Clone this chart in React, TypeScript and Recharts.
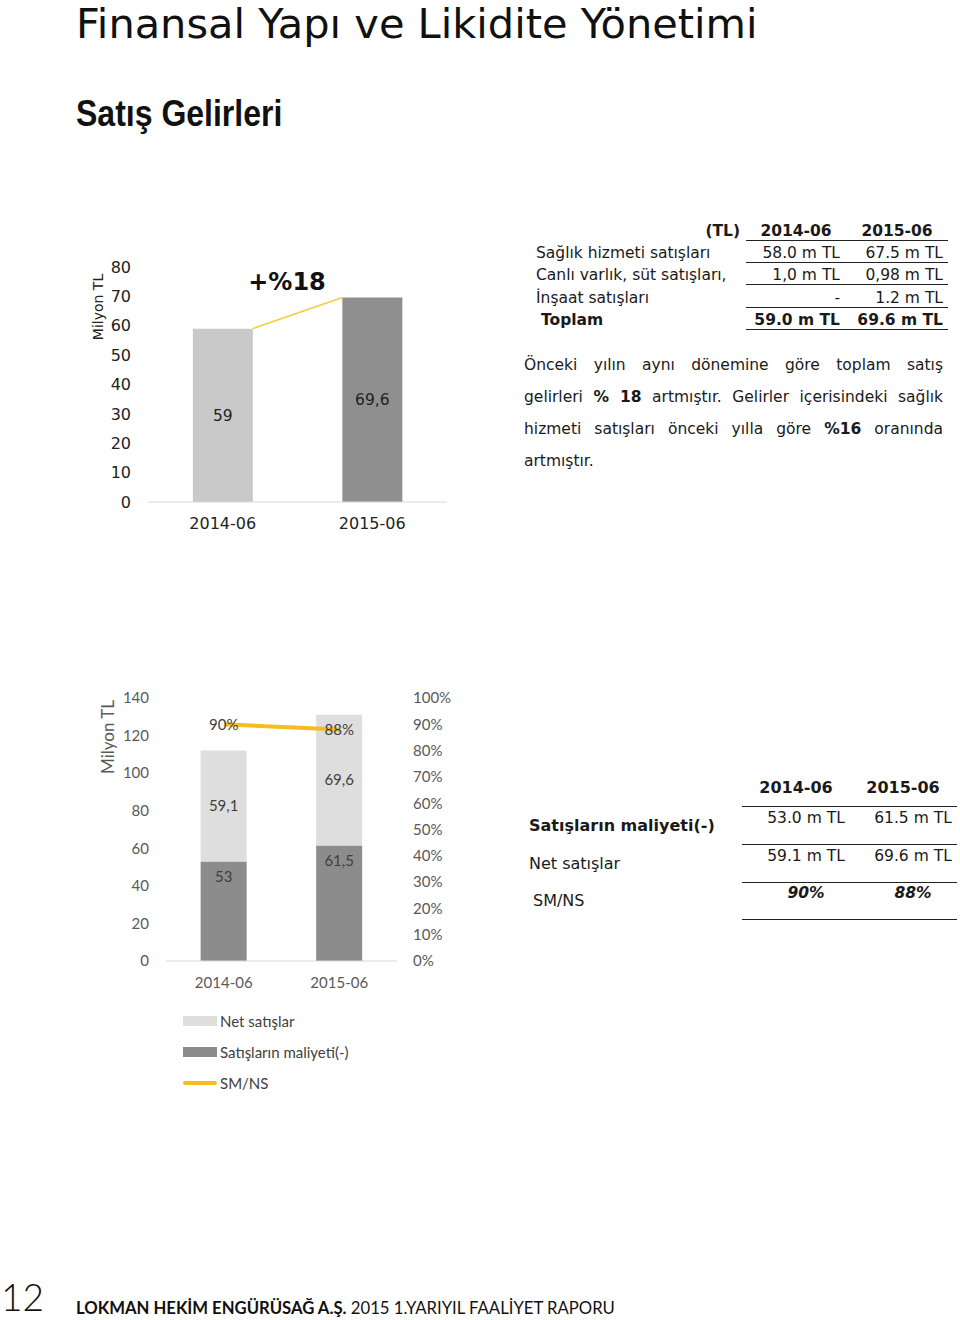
import React from 'react';
import {
  ComposedChart,
  Bar,
  Line,
  XAxis,
  YAxis,
  Cell,
  LabelList,
  Legend,
} from 'recharts';

// ---------- DATA ----------
const revCategories = ['2014-06', '2015-06'];
const revValues = [59, 69.6];
const revTicks = [0, 10, 20, 30, 40, 50, 60, 70, 80];
const revColors = ['#c9c9c9', '#8f8f8f'];
const growthLabel = '+%18';

const cmCategories = ['2014-06', '2015-06'];
const costValues = [53, 61.5];
const netValues = [59.1, 69.6];
const ratioValues = [0.9, 0.88];
const cmLeftTicks = [0, 20, 40, 60, 80, 100, 120, 140];
const cmRightTicks = [0, 0.1, 0.2, 0.3, 0.4, 0.5, 0.6, 0.7, 0.8, 0.9, 1];

const table1Header = ['(TL)', '2014-06', '2015-06'];
const table1Labels = ['Sağlık hizmeti satışları', 'Canlı varlık, süt satışları,', 'İnşaat satışları', 'Toplam'];
const table1Col1 = ['58.0 m TL', '1,0 m TL', '-', '59.0 m TL'];
const table1Col2 = ['67.5 m TL', '0,98 m TL', '1.2 m TL', '69.6 m TL'];

const table2Header = ['2014-06', '2015-06'];
const table2Labels = ['Satışların maliyeti(-)', 'Net satışlar', 'SM/NS'];
const table2Col1 = ['53.0 m TL', '59.1 m TL', '90%'];
const table2Col2 = ['61.5 m TL', '69.6 m TL', '88%'];

type Seg = { t: string; b?: boolean };
const paragraph: Seg[][] = [
  [{ t: 'Önceki yılın aynı dönemine göre toplam satış' }],
  [{ t: 'gelirleri ' }, { t: '% 18', b: true }, { t: ' artmıştır. Gelirler içerisindeki sağlık' }],
  [{ t: 'hizmeti satışları önceki yılla göre  ' }, { t: '%16', b: true }, { t: ' oranında' }],
  [{ t: 'artmıştır.' }],
];

const legendItems = [
  { label: 'Net satışlar', color: '#dedede', kind: 'rect' },
  { label: 'Satışların maliyeti(-)', color: '#8c8c8c', kind: 'rect' },
  { label: 'SM/NS', color: '#f5bd1f', kind: 'line' },
];

// ---------- STYLE ----------
const CG = '"DejaVu Sans", "Noto Sans", sans-serif';
const CAL = 'Lato, "Open Sans", sans-serif';
const BAR_FRACTION = 0.4; // bar width / band width

const fmtComma = (v: any) => String(v).replace('.', ',');
const fmtPct = (v: any) => `${Math.round(Number(v) * 100)}%`;

const revData = revCategories.map((c, i) => ({ cat: c, value: revValues[i] }));
const connector = [
  { pos: 0.5 + BAR_FRACTION / 2, v: revValues[0] },
  { pos: 1.5 - BAR_FRACTION / 2, v: revValues[1] },
];
const cmData = cmCategories.map((c, i) => ({
  cat: c,
  cost: costValues[i],
  net: netValues[i],
  ratio: ratioValues[i],
}));

const T = (props: {
  x: number;
  cy: number;
  children: React.ReactNode;
  align?: 'left' | 'right' | 'center';
  font?: string;
  size?: number;
  bold?: boolean;
  italic?: boolean;
  color?: string;
}) => {
  const { x, cy, align = 'left', font = CG, size = 15.5, bold, italic, color = '#1a1a1a' } = props;
  const style: React.CSSProperties = {
    position: 'absolute',
    top: cy - 12,
    height: 24,
    lineHeight: '24px',
    fontFamily: font,
    fontSize: size,
    fontWeight: bold ? 700 : 400,
    fontStyle: italic ? 'italic' : 'normal',
    color,
    whiteSpace: 'nowrap',
  };
  if (align === 'left') style.left = x;
  else if (align === 'right') {
    style.left = x - 300;
    style.width = 300;
    style.textAlign = 'right';
  } else {
    style.left = x - 150;
    style.width = 300;
    style.textAlign = 'center';
  }
  return <div style={style}>{props.children}</div>;
};

const HLine = ({ x1, x2, y }: { x1: number; x2: number; y: number }) => (
  <div style={{ position: 'absolute', left: x1, top: y, width: x2 - x1, height: 1, background: '#222' }} />
);

const LegendContent = () => (
  <div style={{ height: 104, paddingTop: 14, boxSizing: 'border-box', marginLeft: 183 }}>
    {legendItems.map((it) => (
      <div key={it.label} style={{ height: 31, display: 'flex', alignItems: 'center' }}>
        <div
          style={{
            width: 34,
            height: it.kind === 'rect' ? 10 : 4,
            background: it.color,
            marginRight: 3,
            borderRadius: it.kind === 'line' ? 2 : 0,
          }}
        />
        <span style={{ fontFamily: CAL, fontSize: 15, color: '#404040' }}>{it.label}</span>
      </div>
    ))}
  </div>
);

export default function App() {
  return (
    <div style={{ position: 'absolute', left: 0, top: 0, width: 960, height: 1320, background: '#fff', overflow: 'hidden' }}>
      {/* Titles */}
      <div
        style={{
          position: 'absolute',
          left: 76,
          top: 3,
          fontFamily: CG,
          fontSize: 41.5,
          fontWeight: 400,
          color: '#111',
          whiteSpace: 'nowrap',
          lineHeight: '42px',
        }}
      >
        Finansal Yapı ve Likidite Yönetimi
      </div>
      <div
        style={{
          position: 'absolute',
          left: 76,
          top: 92,
          fontFamily: '"Liberation Sans", Arial, sans-serif',
          fontSize: 37,
          fontWeight: 700,
          color: '#111',
          whiteSpace: 'nowrap',
          lineHeight: '44px',
          transform: 'scaleX(0.865)',
          transformOrigin: 'left center',
        }}
      >
        Satış Gelirleri
      </div>

      {/* Chart 1 */}
      <div style={{ position: 'absolute', left: 0, top: 240 }}>
        <ComposedChart width={480} height={300} data={revData} margin={{ top: 27, right: 33, bottom: 8, left: 0 }} barCategoryGap="30%">
          <XAxis
            dataKey="cat"
            height={30}
            tickSize={0}
            tickMargin={16}
            axisLine={{ stroke: '#d9d9d9' }}
            tick={{ fontFamily: CG, fontSize: 16, fill: '#222' }}
          />
          <XAxis xAxisId="pos" type="number" dataKey="pos" domain={[0, 2]} hide allowDataOverflow />
          <YAxis
            width={148}
            domain={[0, 80]}
            ticks={revTicks}
            interval={0}
            tickSize={0}
            tickMargin={17}
            axisLine={false}
            tick={{ fontFamily: CG, fontSize: 16, fill: '#222' }}
          />
          <Bar dataKey="value" isAnimationActive={false}>
            {revData.map((d, i) => (
              <Cell key={d.cat} fill={revColors[i]} />
            ))}
            <LabelList dataKey="value" position="center" formatter={fmtComma} style={{ fontFamily: CG, fontSize: 15.5, fill: '#222' }} />
          </Bar>
          <Line
            data={connector}
            xAxisId="pos"
            dataKey="v"
            stroke="#f0cf3c"
            strokeWidth={1.6}
            dot={false}
            activeDot={false}
            isAnimationActive={false}
          />
        </ComposedChart>
      </div>
      <div
        style={{
          position: 'absolute',
          left: 98 - 60,
          top: 307 - 10,
          width: 120,
          height: 20,
          lineHeight: '20px',
          textAlign: 'center',
          transform: 'rotate(-90deg)',
          fontFamily: CG,
          fontSize: 14,
          color: '#222',
        }}
      >
        Milyon TL
      </div>
      <div
        style={{
          position: 'absolute',
          left: 287 - 60,
          top: 282 - 16,
          width: 120,
          height: 32,
          lineHeight: '32px',
          textAlign: 'center',
          fontFamily: CG,
          fontSize: 24,
          fontWeight: 700,
          color: '#111',
        }}
      >
        {growthLabel}
      </div>

      {/* Table 1 */}
      <T x={740} cy={231} align="right" bold>{table1Header[0]}</T>
      <T x={796} cy={231} align="center" bold>{table1Header[1]}</T>
      <T x={897} cy={231} align="center" bold>{table1Header[2]}</T>
      {table1Labels.map((l, i) => (
        <React.Fragment key={l}>
          <T x={i === 3 ? 541 : 536} cy={253 + i * 22.3} bold={i === 3}>{l}</T>
          <T x={840} cy={253 + i * 22.3} align="right" bold={i === 3}>{table1Col1[i]}</T>
          <T x={943} cy={253 + i * 22.3} align="right" bold={i === 3}>{table1Col2[i]}</T>
        </React.Fragment>
      ))}
      {[240, 262, 284, 307, 329].map((y) => (
        <HLine key={y} x1={746} x2={948} y={y} />
      ))}

      {/* Paragraph */}
      {paragraph.map((line, i) => (
        <div
          key={i}
          style={{
            position: 'absolute',
            left: 524,
            top: 365 + i * 32 - 12,
            width: 419,
            height: 24,
            lineHeight: '24px',
            fontFamily: CG,
            fontSize: 15.5,
            color: '#1a1a1a',
            textAlign: 'justify',
            textAlignLast: i === paragraph.length - 1 ? 'left' : 'justify',
            whiteSpace: 'normal',
          }}
        >
          {line.map((s, j) => (
            <span key={j} style={{ fontWeight: s.b ? 700 : 400 }}>
              {s.t}
            </span>
          ))}
        </div>
      ))}

      {/* Chart 2 */}
      <div style={{ position: 'absolute', left: 0, top: 680 }}>
        <ComposedChart width={480} height={420} data={cmData} margin={{ top: 18, right: 23, bottom: 5, left: 0 }} barCategoryGap="30%">
          <XAxis
            dataKey="cat"
            height={30}
            tickSize={0}
            tickMargin={16}
            axisLine={{ stroke: '#d9d9d9' }}
            tick={{ fontFamily: CAL, fontSize: 15, fill: '#595959' }}
          />
          <YAxis
            yAxisId="left"
            width={166}
            domain={[0, 140]}
            ticks={cmLeftTicks}
            interval={0}
            tickSize={0}
            tickMargin={17}
            axisLine={false}
            tick={{ fontFamily: CAL, fontSize: 15, fill: '#595959' }}
          />
          <YAxis
            yAxisId="pct"
            orientation="right"
            width={60}
            domain={[0, 1]}
            ticks={cmRightTicks}
            interval={0}
            tickFormatter={fmtPct}
            tickSize={0}
            tickMargin={16}
            axisLine={false}
            tick={{ fontFamily: CAL, fontSize: 15, fill: '#595959' }}
          />
          <Bar yAxisId="left" dataKey="cost" stackId="a" fill="#8c8c8c" isAnimationActive={false}>
            <LabelList dataKey="cost" position="insideTop" offset={10} formatter={fmtComma} style={{ fontFamily: CAL, fontSize: 15, fill: '#404040' }} />
          </Bar>
          <Bar yAxisId="left" dataKey="net" stackId="a" fill="#dedede" isAnimationActive={false}>
            <LabelList dataKey="net" position="center" formatter={fmtComma} style={{ fontFamily: CAL, fontSize: 15, fill: '#404040' }} />
          </Bar>
          <Line
            yAxisId="pct"
            dataKey="ratio"
            stroke="#f5bd1f"
            strokeWidth={4}
            dot={false}
            activeDot={false}
            isAnimationActive={false}
          >
            <LabelList dataKey="ratio" position="center" formatter={fmtPct} style={{ fontFamily: CAL, fontSize: 15, fill: '#404040' }} />
          </Line>
          <Legend verticalAlign="bottom" align="left" content={<LegendContent />} />
        </ComposedChart>
      </div>
      <div
        style={{
          position: 'absolute',
          left: 108 - 60,
          top: 737 - 11,
          width: 120,
          height: 22,
          lineHeight: '22px',
          textAlign: 'center',
          transform: 'rotate(-90deg)',
          fontFamily: CAL,
          fontSize: 17,
          color: '#595959',
        }}
      >
        Milyon TL
      </div>

      {/* Table 2 */}
      <T x={796} cy={788} align="center" bold size={16}>{table2Header[0]}</T>
      <T x={903} cy={788} align="center" bold size={16}>{table2Header[1]}</T>
      {[806, 844, 882, 919].map((y) => (
        <HLine key={y} x1={742} x2={957} y={y} />
      ))}
      {table2Labels.map((l, i) => (
        <React.Fragment key={l}>
          <T x={i === 2 ? 533 : 529} cy={826 + i * 37.5} bold={i === 0} size={16}>{l}</T>
          <T x={806} cy={818 + i * 37.5} align="center" bold={i === 2} italic={i === 2} size={15.5}>
            {table2Col1[i]}
          </T>
          <T x={913} cy={818 + i * 37.5} align="center" bold={i === 2} italic={i === 2} size={15.5}>
            {table2Col2[i]}
          </T>
        </React.Fragment>
      ))}

      {/* Footer */}
      <div
        style={{
          position: 'absolute',
          left: 1,
          top: 1280,
          fontFamily: CAL,
          fontSize: 37,
          fontWeight: 300,
          lineHeight: '34px',
          color: '#111',
        }}
      >
        12
      </div>
      <div
        style={{
          position: 'absolute',
          left: 76,
          top: 1297,
          fontFamily: CAL,
          fontSize: 16.7,
          lineHeight: '22px',
          color: '#111',
          whiteSpace: 'nowrap',
        }}
      >
        <span style={{ fontWeight: 700 }}>LOKMAN HEKİM ENGÜRÜSAĞ A.Ş.</span> 2015 1.YARIYIL FAALİYET RAPORU
      </div>
    </div>
  );
}
